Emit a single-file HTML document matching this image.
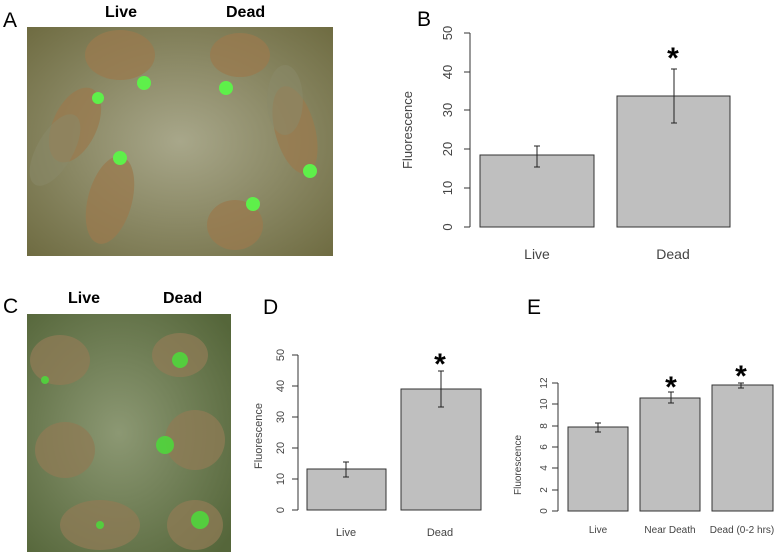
<!DOCTYPE html>
<html><head><style>
body{margin:0;background:#fff;width:778px;height:555px;overflow:hidden;}
svg{display:block}
</style></head><body>
<svg width="778" height="555" xmlns="http://www.w3.org/2000/svg" font-family="Liberation Sans, sans-serif">
<defs>
<radialGradient id="pa" cx="0.5" cy="0.5" r="0.7"><stop offset="0" stop-color="#a8a78a"/><stop offset="1" stop-color="#6f6c42"/></radialGradient>
<radialGradient id="pc" cx="0.45" cy="0.5" r="0.7"><stop offset="0" stop-color="#8c9873"/><stop offset="1" stop-color="#55663a"/></radialGradient>
</defs>
<!-- photo A -->
<rect x="27" y="27" width="306" height="229" fill="url(#pa)"/>
<g fill="#9a7a4e" opacity="0.75">
<ellipse cx="120" cy="55" rx="35" ry="25"/><ellipse cx="240" cy="55" rx="30" ry="22"/>
<ellipse cx="75" cy="125" rx="22" ry="40" transform="rotate(25 75 125)"/>
<ellipse cx="110" cy="200" rx="22" ry="45" transform="rotate(15 110 200)"/>
<ellipse cx="295" cy="130" rx="20" ry="45" transform="rotate(-15 295 130)"/>
<ellipse cx="235" cy="225" rx="28" ry="25"/>
</g>
<g fill="#8a8a6a" opacity="0.5"><ellipse cx="55" cy="150" rx="18" ry="40" transform="rotate(30 55 150)"/><ellipse cx="285" cy="100" rx="18" ry="35"/></g>
<g fill="#5ef04a"><circle cx="144" cy="83" r="7"/><circle cx="226" cy="88" r="7"/><circle cx="98" cy="98" r="6"/><circle cx="120" cy="158" r="7"/><circle cx="310" cy="171" r="7"/><circle cx="253" cy="204" r="7"/></g>
<!-- photo C -->
<rect x="27" y="314" width="204" height="238" fill="url(#pc)"/>
<g fill="#8f7b55" opacity="0.75">
<ellipse cx="60" cy="360" rx="30" ry="25"/><ellipse cx="180" cy="355" rx="28" ry="22"/>
<ellipse cx="65" cy="450" rx="30" ry="28"/><ellipse cx="195" cy="440" rx="30" ry="30"/>
<ellipse cx="100" cy="525" rx="40" ry="25"/><ellipse cx="195" cy="525" rx="28" ry="25"/>
</g>
<g fill="#4fd63c" opacity="0.9"><circle cx="180" cy="360" r="8"/><circle cx="165" cy="445" r="9"/><circle cx="200" cy="520" r="9"/><circle cx="45" cy="380" r="4"/><circle cx="100" cy="525" r="4"/></g>
<!-- labels -->
<g font-family="Liberation Sans, sans-serif" font-size="21" fill="#000">
<text x="3" y="27">A</text><text x="417" y="26">B</text><text x="3" y="313">C</text><text x="263" y="314">D</text><text x="527" y="314">E</text>
</g>
<g font-size="16" fill="#000" font-weight="bold"><text x="105" y="17">Live</text><text x="226" y="17">Dead</text><text x="68" y="303">Live</text><text x="163" y="303">Dead</text></g>
<!-- B -->
<g stroke="#333" fill="none" stroke-width="1">
<line x1="470" y1="33" x2="470" y2="227"/>
<line x1="464" y1="33" x2="470" y2="33"/><line x1="464" y1="72" x2="470" y2="72"/><line x1="464" y1="110" x2="470" y2="110"/><line x1="464" y1="149" x2="470" y2="149"/><line x1="464" y1="188" x2="470" y2="188"/><line x1="464" y1="227" x2="470" y2="227"/>
</g>
<g font-size="13" fill="#444" text-anchor="middle">
<text transform="translate(448 33) rotate(-90)" dy="4">50</text><text transform="translate(448 72) rotate(-90)" dy="4">40</text><text transform="translate(448 110) rotate(-90)" dy="4">30</text><text transform="translate(448 149) rotate(-90)" dy="4">20</text><text transform="translate(448 188) rotate(-90)" dy="4">10</text><text transform="translate(448 227) rotate(-90)" dy="4">0</text>
<text transform="translate(412 130) rotate(-90)">Fluorescence</text>
<text x="537" y="259" font-size="14">Live</text><text x="673" y="259" font-size="14">Dead</text>
</g>
<rect x="480" y="155" width="114" height="72" fill="#bfbfbf" stroke="#333"/>
<rect x="617" y="96" width="113" height="131" fill="#bfbfbf" stroke="#333"/>
<g stroke="#222"><line x1="537" y1="146" x2="537" y2="167"/><line x1="534" y1="146" x2="540" y2="146"/><line x1="534" y1="167" x2="540" y2="167"/>
<line x1="674" y1="69" x2="674" y2="123"/><line x1="671" y1="69" x2="677" y2="69"/><line x1="671" y1="123" x2="677" y2="123"/></g>
<text x="673" y="68" font-size="30" font-weight="bold" text-anchor="middle">*</text>
<!-- D -->
<g stroke="#333" fill="none">
<line x1="298" y1="355" x2="298" y2="510"/>
<line x1="292" y1="355" x2="298" y2="355"/><line x1="292" y1="386" x2="298" y2="386"/><line x1="292" y1="417" x2="298" y2="417"/><line x1="292" y1="448" x2="298" y2="448"/><line x1="292" y1="479" x2="298" y2="479"/><line x1="292" y1="510" x2="298" y2="510"/>
</g>
<g font-size="11" fill="#444" text-anchor="middle">
<text transform="translate(280 355) rotate(-90)" dy="4">50</text><text transform="translate(280 386) rotate(-90)" dy="4">40</text><text transform="translate(280 417) rotate(-90)" dy="4">30</text><text transform="translate(280 448) rotate(-90)" dy="4">20</text><text transform="translate(280 479) rotate(-90)" dy="4">10</text><text transform="translate(280 510) rotate(-90)" dy="4">0</text>
<text transform="translate(262 436) rotate(-90)">Fluorescence</text>
<text x="346" y="536" font-size="11">Live</text><text x="440" y="536" font-size="11">Dead</text>
</g>
<rect x="307" y="469" width="79" height="41" fill="#bfbfbf" stroke="#333"/>
<rect x="401" y="389" width="80" height="121" fill="#bfbfbf" stroke="#333"/>
<g stroke="#222"><line x1="346" y1="462" x2="346" y2="477"/><line x1="343" y1="462" x2="349" y2="462"/><line x1="343" y1="477" x2="349" y2="477"/>
<line x1="441" y1="371" x2="441" y2="407"/><line x1="438" y1="371" x2="444" y2="371"/><line x1="438" y1="407" x2="444" y2="407"/></g>
<text x="440" y="374" font-size="30" font-weight="bold" text-anchor="middle">*</text>
<!-- E -->
<g stroke="#333" fill="none">
<line x1="558" y1="383" x2="558" y2="511"/>
<line x1="552" y1="383" x2="558" y2="383"/><line x1="552" y1="404" x2="558" y2="404"/><line x1="552" y1="426" x2="558" y2="426"/><line x1="552" y1="447" x2="558" y2="447"/><line x1="552" y1="468" x2="558" y2="468"/><line x1="552" y1="490" x2="558" y2="490"/><line x1="552" y1="511" x2="558" y2="511"/>
</g>
<g font-size="10" fill="#444" text-anchor="middle">
<text transform="translate(543 383) rotate(-90)" dy="4">12</text><text transform="translate(543 404) rotate(-90)" dy="4">10</text><text transform="translate(543 426) rotate(-90)" dy="4">8</text><text transform="translate(543 447) rotate(-90)" dy="4">6</text><text transform="translate(543 468) rotate(-90)" dy="4">4</text><text transform="translate(543 490) rotate(-90)" dy="4">2</text><text transform="translate(543 511) rotate(-90)" dy="4">0</text>
<text transform="translate(521 465) rotate(-90)">Fluorescence</text>
<text x="598" y="533">Live</text><text x="670" y="533">Near Death</text><text x="742" y="533">Dead (0-2 hrs)</text>
</g>
<rect x="568" y="427" width="60" height="84" fill="#bfbfbf" stroke="#333"/>
<rect x="640" y="398" width="60" height="113" fill="#bfbfbf" stroke="#333"/>
<rect x="712" y="385" width="61" height="126" fill="#bfbfbf" stroke="#333"/>
<g stroke="#222"><line x1="598" y1="423" x2="598" y2="432"/><line x1="595" y1="423" x2="601" y2="423"/><line x1="595" y1="432" x2="601" y2="432"/>
<line x1="671" y1="392" x2="671" y2="403"/><line x1="668" y1="392" x2="674" y2="392"/><line x1="668" y1="403" x2="674" y2="403"/>
<line x1="741" y1="383" x2="741" y2="388"/><line x1="738" y1="383" x2="744" y2="383"/><line x1="738" y1="388" x2="744" y2="388"/></g>
<text x="671" y="397" font-size="30" font-weight="bold" text-anchor="middle">*</text>
<text x="741" y="386" font-size="30" font-weight="bold" text-anchor="middle">*</text>
</svg>
</body></html>
